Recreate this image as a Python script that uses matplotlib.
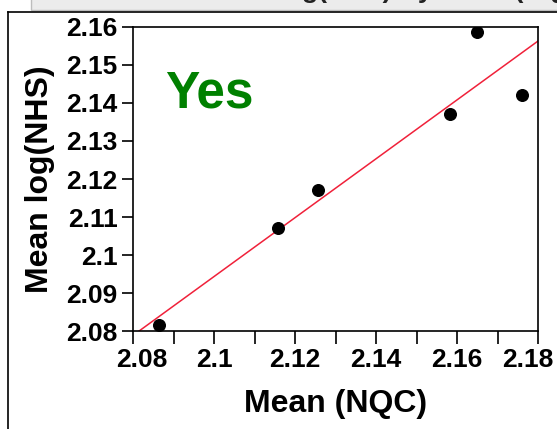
import matplotlib
matplotlib.use("Agg")
import matplotlib.pyplot as plt
import matplotlib.transforms as mtransforms
from matplotlib.patches import Rectangle
import numpy as np

# Mean NQC vs mean log(NHS), group "Yes"
nqc = [2.0864, 2.1158, 2.1257, 2.1583, 2.1649, 2.1760]
log_nhs = [2.0816, 2.1072, 2.1172, 2.1370, 2.1587, 2.1420]

# fitted line end points
fit_x = [2.0815, 2.18]
fit_y = [2.08, 2.1563]

x_ticks = [2.08, 2.1, 2.12, 2.14, 2.16, 2.18]
x_labels = ["2.08", "2.1", "2.12", "2.14", "2.16", "2.18"]
y_ticks = [2.08, 2.09, 2.1, 2.11, 2.12, 2.13, 2.14, 2.15, 2.16]
y_labels = ["2.08", "2.09", "2.1", "2.11", "2.12", "2.13", "2.14", "2.15", "2.16"]

plt.rcParams['font.family'] = ['Liberation Sans', 'DejaVu Sans']

fig = plt.figure(figsize=(5.57, 4.29), dpi=100)

# header strip (title mostly scrolled off) and outer frame of the report panel
fig.patches.append(Rectangle((0.055, 0.976), 0.95, 0.03, transform=fig.transFigure,
                             facecolor='#ececec', edgecolor='#bdbdbd', lw=1))
fig.text(0.0233, 1.0035, "Bivariate Fit of Mean log(NHS) By Mean (NQC)", ha='left', va='baseline',
         fontsize=19, fontweight='bold', color='#222222')
fig.add_artist(plt.Line2D([0.015, 0.015], [0.0, 0.973], transform=fig.transFigure, color='black', lw=1.2))
fig.add_artist(plt.Line2D([0.015, 1.0], [0.973, 0.973], transform=fig.transFigure, color='black', lw=1.2))

ax = fig.add_axes([0.2388, 0.2284, 0.7271, 0.7087])

ax.plot(fit_x, fit_y, color='#f0213a', lw=1.1)
ax.scatter(nqc, log_nhs, s=70, color='black', zorder=3)

ax.set_xlim(2.08, 2.18)
ax.set_ylim(2.08, 2.16)
ax.set_xticks(x_ticks)
ax.set_xticklabels(x_labels)
ax.set_xticks(np.arange(2.09, 2.18, 0.02), minor=True)
ax.set_yticks(y_ticks)
ax.set_yticklabels(y_labels)

ax.tick_params(axis='both', which='both', length=9, width=1.2, labelsize=19)
ax.tick_params(axis='y', length=8, pad=3)
for lab in ax.get_xticklabels() + ax.get_yticklabels():
    lab.set_fontweight('bold')
for sp in ax.spines.values():
    sp.set_linewidth(1.2)

# end labels are pulled inside the axis width
xl = ax.get_xticklabels()
xl[0].set_transform(xl[0].get_transform() + mtransforms.ScaledTranslation(9 / 100, 0, fig.dpi_scale_trans))
xl[-1].set_transform(xl[-1].get_transform() + mtransforms.ScaledTranslation(-10 / 100, 0, fig.dpi_scale_trans))

ax.set_xlabel("Mean (NQC)", fontsize=23, fontweight='bold', labelpad=12)
ax.set_ylabel("Mean log(NHS)", fontsize=23, fontweight='bold', labelpad=8)

ax.text(0.08, 0.78, "Yes", transform=ax.transAxes, fontsize=37, fontweight='bold',
        color='#008000', ha='left', va='center')

fig.savefig("out.png", dpi=100)
